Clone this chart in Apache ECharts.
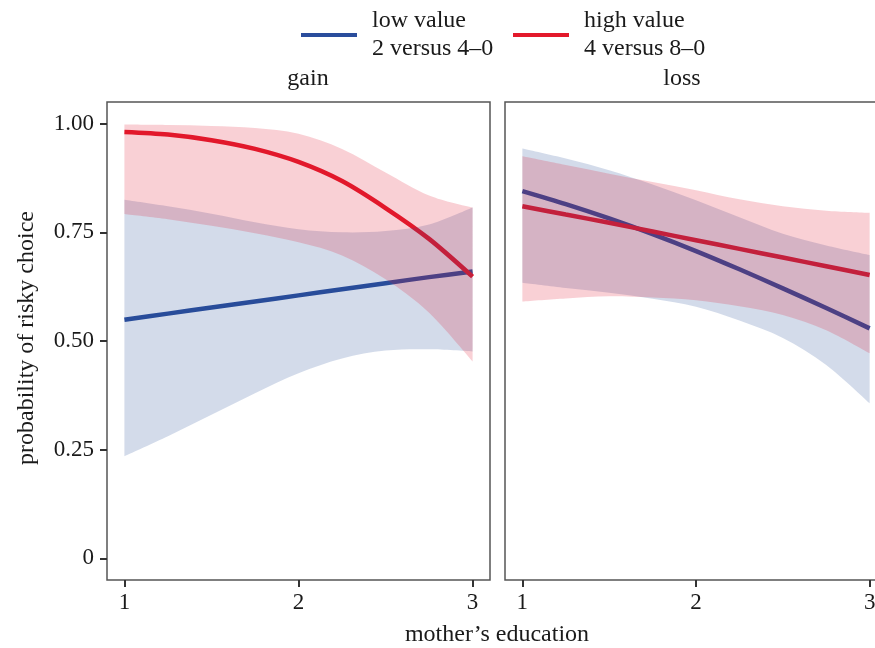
<!DOCTYPE html>
<html>
<head>
<meta charset="utf-8">
<script src="https://cdn.jsdelivr.net/npm/echarts@6/dist/echarts.min.js"></script>
<style>
  html, body { margin: 0; padding: 0; background: #fff; overflow: hidden; }
  /* the right panel runs past the 875px picture edge, as in the source figure */
  #chart { width: 892px; height: 648px; }
</style>
</head>
<body>
<div id="chart"></div>
<script>
const xs = [1, 1.25, 1.5, 1.75, 2, 2.25, 2.5, 2.75, 3]

// gain panel
const gainLow = [0.549, 0.563, 0.577, 0.591, 0.605, 0.619, 0.633, 0.647, 0.660]
const gainLowUpper = [0.825, 0.810, 0.793, 0.773, 0.757, 0.750, 0.753, 0.768, 0.807]
const gainLowLower = [0.235, 0.281, 0.330, 0.380, 0.426, 0.460, 0.478, 0.481, 0.476]
const gainHigh = [0.981, 0.975, 0.962, 0.942, 0.912, 0.868, 0.806, 0.735, 0.648]
const gainHighUpper = [0.998, 0.997, 0.995, 0.990, 0.977, 0.942, 0.888, 0.835, 0.807]
const gainHighLower = [0.792, 0.780, 0.765, 0.748, 0.727, 0.697, 0.642, 0.565, 0.453]

// loss panel
const lossLow = [0.845, 0.815, 0.782, 0.746, 0.707, 0.665, 0.621, 0.576, 0.529]
const lossLowUpper = [0.943, 0.920, 0.893, 0.860, 0.824, 0.785, 0.747, 0.720, 0.698]
const lossLowLower = [0.634, 0.622, 0.611, 0.597, 0.579, 0.547, 0.507, 0.445, 0.357]
const lossHigh = [0.810, 0.791, 0.772, 0.752, 0.732, 0.712, 0.692, 0.672, 0.652]
const lossHighUpper = [0.925, 0.905, 0.885, 0.866, 0.847, 0.826, 0.810, 0.800, 0.795]
const lossHighLower = [0.591, 0.598, 0.603, 0.600, 0.594, 0.580, 0.560, 0.525, 0.472]

const xTicks = [1, 2, 3]
const yTicks = [0, 0.25, 0.5, 0.75, 1]
const panelNames = ['gain', 'loss']
const legendNames = ['low value', 'high value']
const legendSub = { 'low value': '2 versus 4–0', 'high value': '4 versus 8–0' }

const BLUE = '#2a4d9c'
const RED = '#e3192b'
const BLUE_FILL = 'rgba(35, 75, 150, 0.2)'
const RED_FILL = 'rgba(225, 20, 45, 0.2)'
const FONT = 'Liberation Serif'
const TXT = '#1a1a1a'

function pairs (ys) {
  return xs.map((x, i) => [x, ys[i]])
}

function lineSeries (name, ys, color, idx) {
  return {
    name: name,
    type: 'line',
    xAxisIndex: idx,
    yAxisIndex: idx,
    data: pairs(ys),
    smooth: 0.3,
    symbol: 'none',
    z: 2,
    itemStyle: { color: color },
    lineStyle: { color: color, width: 4.5 }
  }
}

// catmull-rom through pixel points -> bezier segments
function curve (pts) {
  let d = ''
  for (let i = 0; i < pts.length - 1; i++) {
    const p0 = pts[i - 1] || pts[i]
    const p1 = pts[i]
    const p2 = pts[i + 1]
    const p3 = pts[i + 2] || p2
    const c1 = [p1[0] + (p2[0] - p0[0]) / 6, p1[1] + (p2[1] - p0[1]) / 6]
    const c2 = [p2[0] - (p3[0] - p1[0]) / 6, p2[1] - (p3[1] - p1[1]) / 6]
    d += ' C' + c1.join(' ') + ' ' + c2.join(' ') + ' ' + p2.join(' ')
  }
  return d
}

// confidence ribbon drawn as one filled shape between lower and upper
function bandSeries (name, lo, hi, fill, idx) {
  return {
    name: name,
    type: 'custom',
    xAxisIndex: idx,
    yAxisIndex: idx,
    silent: true,
    z: 3,
    data: xs.map((x, i) => [x, lo[i], hi[i]]),
    encode: { x: 0, y: [1, 2] },
    renderItem: function (params, api) {
      if (params.dataIndex !== 0) return
      const top = xs.map((x, i) => api.coord([x, hi[i]]))
      const bot = xs.map((x, i) => api.coord([x, lo[i]])).reverse()
      const d = 'M' + top[0].join(' ') + curve(top) +
        ' L' + bot[0].join(' ') + curve(bot) + ' Z'
      return {
        type: 'path',
        shape: { pathData: d },
        style: { fill: fill, stroke: null }
      }
    }
  }
}

function xAxis (idx) {
  return {
    type: 'value',
    gridIndex: idx,
    min: 0.9,
    max: 3.1,
    axisLine: { show: false, onZero: false },
    splitLine: { show: false },
    axisTick: {
      show: true,
      customValues: xTicks,
      length: 7,
      lineStyle: { color: '#333', width: 2 }
    },
    axisLabel: {
      customValues: xTicks,
      margin: 11,
      fontSize: 23,
      fontFamily: FONT,
      color: TXT
    }
  }
}

function yAxis (idx) {
  const first = idx === 0
  return {
    type: 'value',
    gridIndex: idx,
    min: -0.05,
    max: 1.05,
    axisLine: { show: false, onZero: false },
    splitLine: { show: false },
    axisTick: {
      show: first,
      customValues: yTicks,
      length: 7,
      lineStyle: { color: '#333', width: 2 }
    },
    axisLabel: {
      show: first,
      customValues: yTicks,
      margin: 13,
      fontSize: 23,
      fontFamily: FONT,
      color: TXT,
      formatter: v => v === 0 ? '0' : v.toFixed(2)
    }
  }
}

function legend (name, left) {
  return {
    data: [{ name: name, icon: 'rect' }],
    left: left,
    top: 2,
    itemWidth: 56,
    itemHeight: 4,
    selectedMode: false,
    formatter: n => n + '\n' + legendSub[n],
    textStyle: {
      fontSize: 24,
      lineHeight: 28,
      fontFamily: FONT,
      color: TXT,
      padding: [0, 0, 0, 10]
    }
  }
}

const chart = echarts.init(document.getElementById('chart'))

const series = [
  lineSeries(legendNames[0], gainLow, BLUE, 0),
  lineSeries(legendNames[1], gainHigh, RED, 0),
  bandSeries('gain low band', gainLowLower, gainLowUpper, BLUE_FILL, 0),
  bandSeries('gain high band', gainHighLower, gainHighUpper, RED_FILL, 0),
  lineSeries(legendNames[0], lossLow, BLUE, 1),
  lineSeries(legendNames[1], lossHigh, RED, 1),
  bandSeries('loss low band', lossLowLower, lossLowUpper, BLUE_FILL, 1),
  bandSeries('loss high band', lossHighLower, lossHighUpper, RED_FILL, 1)
]

chart.setOption({
  animation: false,
  backgroundColor: '#fff',
  grid: [
    { left: 107, top: 102, width: 383, height: 478, show: true, borderColor: '#555', borderWidth: 1.5, backgroundColor: 'transparent' },
    { left: 505, top: 102, width: 382, height: 478, show: true, borderColor: '#555', borderWidth: 1.5, backgroundColor: 'transparent' }
  ],
  xAxis: [xAxis(0), xAxis(1)],
  yAxis: [yAxis(0), yAxis(1)],
  legend: [legend(legendNames[0], 296), legend(legendNames[1], 508)],
  graphic: [
    { type: 'text', x: 308, y: 79, style: { text: panelNames[0], fontSize: 24, fontFamily: FONT, fill: TXT, align: 'center', verticalAlign: 'middle' } },
    { type: 'text', x: 682, y: 79, style: { text: panelNames[1], fontSize: 24, fontFamily: FONT, fill: TXT, align: 'center', verticalAlign: 'middle' } },
    { type: 'text', x: 497, y: 635, style: { text: 'mother’s education', fontSize: 24, fontFamily: FONT, fill: TXT, align: 'center', verticalAlign: 'middle' } },
    { type: 'text', x: 27, y: 338, rotation: Math.PI / 2, style: { text: 'probability of risky choice', fontSize: 24, fontFamily: FONT, fill: TXT, align: 'center', verticalAlign: 'middle' } }
  ],
  series: series
})
</script>
</body>
</html>
